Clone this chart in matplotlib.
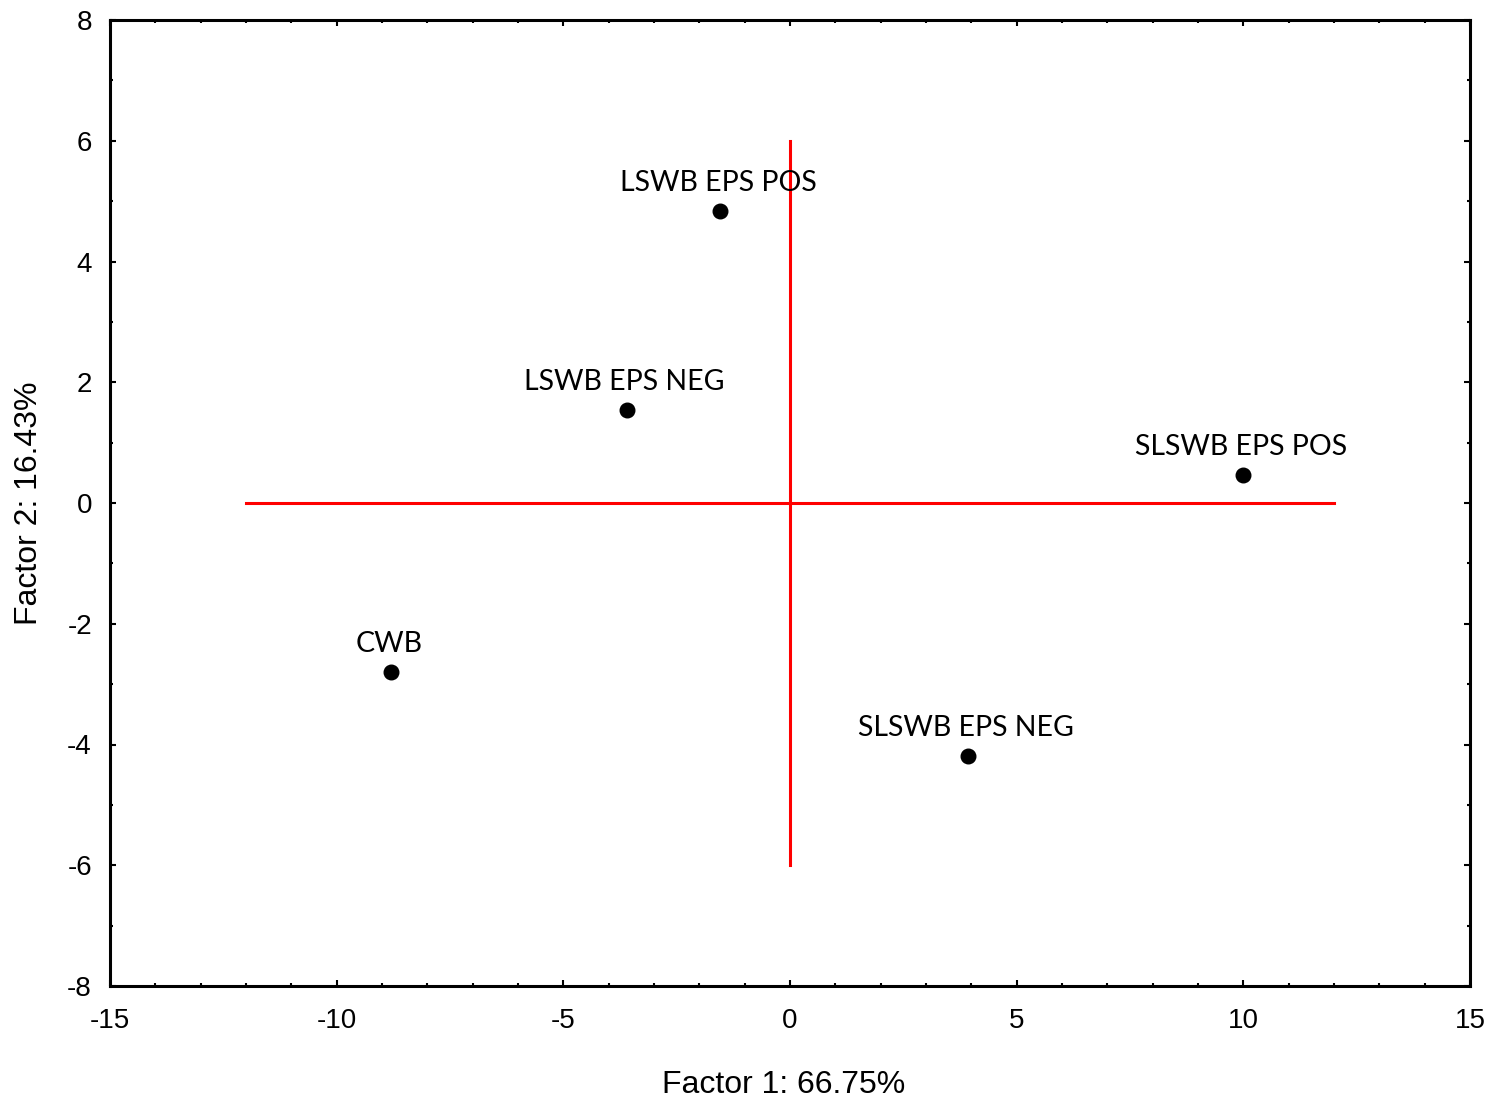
import matplotlib
matplotlib.use("Agg")
import matplotlib.pyplot as plt
from matplotlib.ticker import MultipleLocator

plt.rcParams["axes.unicode_minus"] = False

labels = ["LSWB EPS POS", "LSWB EPS NEG", "SLSWB EPS POS", "CWB", "SLSWB EPS NEG"]
factor1 = [-1.54, -3.6, 10.0, -8.8, 3.93]
factor2 = [4.84, 1.54, 0.46, -2.8, -4.19]

xlabel = "Factor 1: 66.75%"
ylabel = "Factor 2: 16.43%"

fig = plt.figure(figsize=(14.89, 11.09), dpi=100)
ax = fig.add_axes([110/1489, 1-986/1109, 1360/1489, 966/1109])

ax.plot([-12, 12], [0, 0], color="red", lw=2.2, zorder=1)
ax.plot([0, 0], [-6, 6], color="red", lw=2.2, zorder=1)

ax.scatter(factor1, factor2, s=110, color="black", zorder=3)
for lab, x, y in zip(labels, factor1, factor2):
    ax.annotate(lab, (x, y), xytext=(-1.5, 14.4), textcoords="offset points",
                ha="center", va="baseline", fontsize=20.5, family="Lato", zorder=4)

ax.set_xlim(-15, 15)
ax.set_ylim(-8, 8)
ax.xaxis.set_major_locator(MultipleLocator(5))
ax.xaxis.set_minor_locator(MultipleLocator(1))
ax.yaxis.set_major_locator(MultipleLocator(2))
ax.yaxis.set_minor_locator(MultipleLocator(1))
ax.tick_params(which="both", direction="in", top=True, right=True,
               labelsize=20, width=1.5)
ax.tick_params(axis="x", which="both", pad=16)
ax.tick_params(axis="y", which="both", pad=13)
ax.tick_params(which="major", length=4.5)
ax.tick_params(which="minor", length=2.5)
for lab in ax.get_xticklabels() + ax.get_yticklabels():
    lab.set_family("Liberation Sans")
for sp in ax.spines.values():
    sp.set_linewidth(2.2)

ax.set_xlabel(xlabel, fontsize=23, family="Liberation Sans")
ax.xaxis.label.set_va("center")
ax.xaxis.set_label_coords(0.495, -0.103)
ax.set_ylabel(ylabel, fontsize=23, family="Liberation Sans", labelpad=17)

fig.savefig("out.png", dpi=100)
